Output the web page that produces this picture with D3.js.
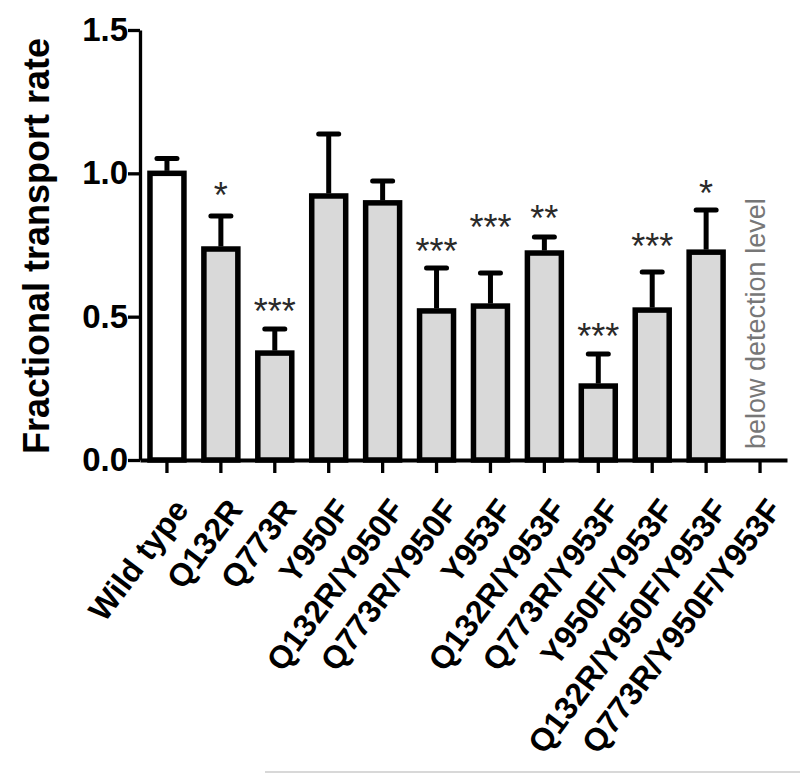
<!DOCTYPE html>
<html>
<head>
<meta charset="utf-8">
<script src="https://cdn.jsdelivr.net/npm/d3@7"></script>
<style>
  body { margin: 0; background: #fff; }
  svg { display: block; font-family: "Liberation Sans", Arial, sans-serif; }
</style>
</head>
<body>
<div id="chart"></div>
<script>
// mutants on the x axis
const categories = [
  "Wild type", "Q132R", "Q773R", "Y950F", "Q132R/Y950F", "Q773R/Y950F",
  "Y953F", "Q132R/Y953F", "Q773R/Y953F", "Y950F/Y953F",
  "Q132R/Y950F/Y953F", "Q773R/Y950F/Y953F"
];
// mean fractional transport rate (null = below detection level)
const means = [1.00, 0.736, 0.373, 0.921, 0.897, 0.52, 0.537, 0.722, 0.258, 0.523, 0.725, null];
// upper error (SEM)
const errors = [0.052, 0.115, 0.084, 0.216, 0.076, 0.15, 0.115, 0.056, 0.112, 0.133, 0.147, null];
// significance marks and the level (in y units) they sit at
const stars = ["", "*", "***", "", "", "***", "***", "**", "***", "***", "*", ""];
const starLevels = [null, 0.952, 0.548, null, null, 0.757, 0.841, 0.872, 0.46, 0.774, 0.959, null];
const yTicks = [0, 0.5, 1.0, 1.5];

const data = categories.map((c, i) => ({
  name: c, mean: means[i], err: errors[i], star: stars[i], starLevel: starLevels[i]
}));

const width = 800, height = 775;

const svg = d3.select("#chart")
  .append("svg")
  .attr("width", width)
  .attr("height", height);

const x = d3.scaleBand()
  .domain(categories)
  .range([140, 787])
  .paddingInner(0.37)
  .paddingOuter(0.185);

const y = d3.scaleLinear().domain([0, 1.5]).range([460, 30]);

const cx = (d) => x(d.name) + x.bandwidth() / 2;

// bars
const bars = data.filter((d) => d.mean !== null);

svg.append("g")
  .selectAll("rect")
  .data(bars)
  .enter()
  .append("rect")
  .attr("x", (d) => x(d.name))
  .attr("y", (d) => y(d.mean))
  .attr("width", x.bandwidth())
  .attr("height", (d) => y(0) - y(d.mean))
  .attr("fill", (d, i) => (i === 0 ? "#ffffff" : "#d9d9d9"))
  .attr("stroke", "#000")
  .attr("stroke-width", 5.5);

// error bars (upper only)
const eb = svg.append("g").attr("stroke", "#000").attr("stroke-width", 5);
eb.selectAll("line.v")
  .data(bars)
  .enter()
  .append("line")
  .attr("class", "v")
  .attr("x1", cx)
  .attr("x2", cx)
  .attr("y1", (d) => y(d.mean) - 2.5)
  .attr("y2", (d) => y(d.mean + d.err));
eb.selectAll("line.cap")
  .data(bars)
  .enter()
  .append("line")
  .attr("class", "cap")
  .attr("stroke-linecap", "round")
  .attr("x1", (d) => cx(d) - 10)
  .attr("x2", (d) => cx(d) + 10)
  .attr("y1", (d) => y(d.mean + d.err))
  .attr("y2", (d) => y(d.mean + d.err));

// significance stars
svg.append("g")
  .selectAll("text")
  .data(data.filter((d) => d.star))
  .enter()
  .append("text")
  .attr("x", cx)
  .attr("y", (d) => y(d.starLevel) + 21)
  .attr("text-anchor", "middle")
  .attr("font-size", 36)
  .attr("fill", "#2a2a2a")
  .text((d) => d.star);

// below detection note
const missing = data.filter((d) => d.mean === null);
svg.append("g")
  .selectAll("text")
  .data(missing)
  .enter()
  .append("text")
  .attr("transform", (d) => `translate(${cx(d) + 5}, ${y(0) - 11}) rotate(-90)`)
  .attr("font-size", 27)
  .attr("fill", "#777")
  .text("below detection level");

// y axis
const gy = svg.append("g")
  .attr("transform", "translate(140,0)")
  .call(d3.axisLeft(y).tickValues(yTicks).tickFormat(d3.format(".1f")).tickSize(12).tickSizeOuter(0).tickPadding(0));
gy.select(".domain").attr("stroke-width", 3.3);
gy.selectAll(".tick line").attr("stroke-width", 3.3);
gy.selectAll(".tick text")
  .attr("font-size", 33)
  .attr("font-weight", "bold")
  .attr("font-family", "Liberation Sans, Arial, sans-serif")
  .attr("fill", "#000");

// x axis
const gx = svg.append("g")
  .attr("transform", "translate(0,460)")
  .call(d3.axisBottom(x).tickSize(13).tickSizeOuter(0));
gx.select(".domain").attr("stroke-width", 4);
gx.selectAll(".tick line").attr("stroke-width", 3.3);
gx.selectAll(".tick text")
  .attr("y", null)
  .attr("dy", null)
  .attr("transform", "translate(23,50) rotate(-53)")
  .attr("text-anchor", "end")
  .attr("font-size", 32)
  .attr("font-weight", "bold")
  .attr("font-family", "Liberation Sans, Arial, sans-serif")
  .attr("fill", "#000");

// y label
svg.append("text")
  .attr("transform", "translate(49,246) rotate(-90)")
  .attr("text-anchor", "middle")
  .attr("font-size", 36)
  .attr("font-weight", "bold")
  .text("Fractional transport rate");

// faint rule at the bottom edge of the figure
svg.append("line")
  .attr("x1", 265).attr("x2", 800)
  .attr("y1", 772).attr("y2", 772)
  .attr("stroke", "#d8d8d8")
  .attr("stroke-width", 2);
</script>
</body>
</html>
